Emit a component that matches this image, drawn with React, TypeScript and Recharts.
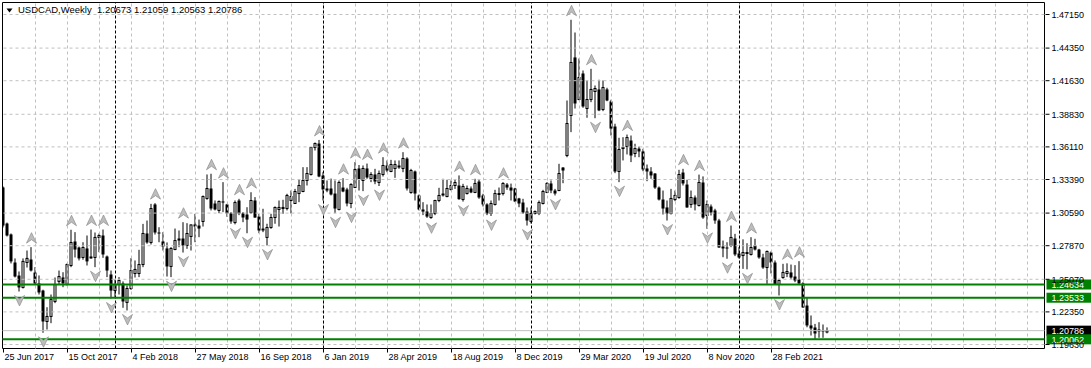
import React from 'react';
import { ComposedChart, Bar, Scatter, XAxis, YAxis, ReferenceLine, ReferenceArea } from 'recharts';

// weekly USDCAD candles, 25 Jun 2017 onwards
const opens = [
  1.3273, 1.2972, 1.2881, 1.2647, 1.2538, 1.2439, 1.2647, 1.2672, 1.2563, 1.2472,
  1.2413, 1.2155, 1.2197, 1.2322, 1.2489, 1.2522, 1.2464, 1.2622, 1.2822, 1.2772,
  1.2689, 1.2764, 1.2697, 1.2689, 1.2856, 1.2872, 1.2697, 1.2547, 1.2413, 1.2464,
  1.2472, 1.2314, 1.2430, 1.2555, 1.2555, 1.2630, 1.2889, 1.2814, 1.3131, 1.2897,
  1.2822, 1.2764, 1.2614, 1.2755, 1.2847, 1.2847, 1.2789, 1.2864, 1.2964, 1.2955,
  1.2989, 1.3181, 1.3264, 1.3139, 1.3081, 1.3156, 1.3131, 1.3056, 1.2980, 1.3164,
  1.3056, 1.3047, 1.3064, 1.3164, 1.3030, 1.2930, 1.2856, 1.2939, 1.3022, 1.3089,
  1.3097, 1.3097, 1.3164, 1.3139, 1.3222, 1.3239, 1.3331, 1.3381, 1.3606, 1.3639,
  1.3372, 1.3264, 1.3264, 1.3222, 1.3089, 1.3272, 1.3256, 1.3139, 1.3272, 1.3431,
  1.3331, 1.3431, 1.3347, 1.3381, 1.3314, 1.3381, 1.3456, 1.3406, 1.3431, 1.3456,
  1.3431, 1.3514, 1.3231, 1.3406, 1.3206, 1.3089, 1.3072, 1.3022, 1.3056, 1.3164,
  1.3222, 1.3197, 1.3256, 1.3289, 1.3289, 1.3172, 1.3222, 1.3264, 1.3231, 1.3322,
  1.3206, 1.3131, 1.3056, 1.3131, 1.3214, 1.3222, 1.3297, 1.3272, 1.3264, 1.3181,
  1.3147, 1.3072, 1.2989, 1.3056, 1.3056, 1.3139, 1.3231, 1.3306, 1.3247, 1.3247,
  1.3439, 1.3539, 1.3873, 1.4357, 1.4006, 1.4223, 1.3931, 1.4006, 1.4073, 1.4090,
  1.3923, 1.4090, 1.3990, 1.3781, 1.3406, 1.3597, 1.3614, 1.3664, 1.3556, 1.3597,
  1.3573, 1.3431, 1.3406, 1.3389, 1.3272, 1.3172, 1.3106, 1.3056, 1.3172, 1.3189,
  1.3397, 1.3297, 1.3131, 1.3189, 1.3122, 1.3314, 1.3039, 1.3114, 1.3081, 1.2997,
  1.2780, 1.2772, 1.2789, 1.2847, 1.2722, 1.2705, 1.2722, 1.2714, 1.2789, 1.2755,
  1.2689, 1.2605, 1.2730, 1.2647, 1.2464, 1.2522, 1.2555, 1.2564, 1.2530, 1.2505,
  1.2472, 1.2288, 1.2122, 1.2105, 1.2088, 1.2080, 1.20673,
];
const highs = [
  1.3281, 1.2980, 1.2889, 1.2681, 1.2572, 1.2681, 1.2747, 1.2775, 1.2608, 1.2539,
  1.2420, 1.2274, 1.2380, 1.2522, 1.2580, 1.2566, 1.2639, 1.2920, 1.2900, 1.2780,
  1.2816, 1.2872, 1.2922, 1.2897, 1.2889, 1.2922, 1.2705, 1.2580, 1.2505, 1.2525,
  1.2489, 1.2455, 1.2683, 1.2664, 1.2753, 1.2969, 1.2997, 1.3136, 1.3142, 1.2941,
  1.2900, 1.2814, 1.2775, 1.2930, 1.2914, 1.2983, 1.2975, 1.2965, 1.3053, 1.3005,
  1.3206, 1.3381, 1.3387, 1.3164, 1.3164, 1.3317, 1.3136, 1.3067, 1.3164, 1.3178,
  1.3067, 1.3108, 1.3233, 1.3192, 1.3053, 1.3095, 1.2970, 1.3053, 1.3114, 1.3164,
  1.3170, 1.3220, 1.3247, 1.3261, 1.3337, 1.3442, 1.3442, 1.3608, 1.3648, 1.3669,
  1.3400, 1.3331, 1.3347, 1.3331, 1.3331, 1.3350, 1.3270, 1.3308, 1.3484, 1.3460,
  1.3456, 1.3472, 1.3400, 1.3428, 1.3414, 1.3525, 1.3498, 1.3503, 1.3498, 1.3498,
  1.3567, 1.3525, 1.3428, 1.3414, 1.3214, 1.3150, 1.3131, 1.3131, 1.3170, 1.3270,
  1.3345, 1.3337, 1.3331, 1.3337, 1.3373, 1.3303, 1.3289, 1.3281, 1.3345, 1.3335,
  1.3220, 1.3141, 1.3164, 1.3253, 1.3272, 1.3317, 1.3310, 1.3305, 1.3270, 1.3186,
  1.3178, 1.3106, 1.3106, 1.3081, 1.3164, 1.3253, 1.3317, 1.3331, 1.3261, 1.3470,
  1.3442, 1.3998, 1.4671, 1.4565, 1.4348, 1.4248, 1.4165, 1.4262, 1.4123, 1.4171,
  1.4165, 1.4104, 1.4004, 1.3804, 1.3687, 1.3692, 1.3714, 1.3706, 1.3637, 1.3614,
  1.3595, 1.3464, 1.3442, 1.3392, 1.3281, 1.3247, 1.3164, 1.3261, 1.3247, 1.3420,
  1.3428, 1.3337, 1.3247, 1.3206, 1.3380, 1.3365, 1.3164, 1.3131, 1.3095, 1.3011,
  1.2830, 1.2816, 1.2955, 1.2886, 1.2775, 1.2840, 1.2808, 1.2858, 1.2845, 1.2761,
  1.2720, 1.2747, 1.2739, 1.2664, 1.2511, 1.2636, 1.2640, 1.2630, 1.2625, 1.2658,
  1.2483, 1.2358, 1.2205, 1.2135, 1.2149, 1.2130, 1.21059,
];
const lows = [
  1.2939, 1.2864, 1.2639, 1.2522, 1.2405, 1.2430, 1.2605, 1.2572, 1.2469, 1.2380,
  1.2061, 1.2088, 1.2141, 1.2308, 1.2464, 1.2441, 1.2455, 1.2608, 1.2689, 1.2664,
  1.2670, 1.2622, 1.2678, 1.2608, 1.2733, 1.2686, 1.2525, 1.2347, 1.2355, 1.2380,
  1.2269, 1.2247, 1.2419, 1.2522, 1.2525, 1.2608, 1.2803, 1.2797, 1.2880, 1.2816,
  1.2747, 1.2530, 1.2525, 1.2750, 1.2775, 1.2730, 1.2761, 1.2747, 1.2816, 1.2858,
  1.2947, 1.3170, 1.3081, 1.3081, 1.3058, 1.3067, 1.3028, 1.2970, 1.2965, 1.3042,
  1.2983, 1.2891, 1.3053, 1.3019, 1.2891, 1.2900, 1.2789, 1.2928, 1.2970, 1.2947,
  1.3053, 1.3081, 1.3056, 1.3136, 1.3150, 1.3233, 1.3289, 1.3372, 1.3581, 1.3358,
  1.3164, 1.3233, 1.3206, 1.3058, 1.3081, 1.3233, 1.3115, 1.3100, 1.3270, 1.3247,
  1.3242, 1.3345, 1.3317, 1.3300, 1.3285, 1.3364, 1.3400, 1.3400, 1.3353, 1.3428,
  1.3400, 1.3247, 1.3220, 1.3164, 1.3081, 1.3042, 1.3019, 1.3011, 1.3042, 1.3150,
  1.3197, 1.3191, 1.3247, 1.3261, 1.3170, 1.3155, 1.3214, 1.3225, 1.3225, 1.3178,
  1.3114, 1.3042, 1.3035, 1.3122, 1.3164, 1.3206, 1.3253, 1.3164, 1.3150, 1.3108,
  1.3053, 1.2955, 1.2972, 1.3047, 1.3042, 1.3131, 1.3225, 1.3225, 1.3206, 1.3242,
  1.3308, 1.3525, 1.3734, 1.3931, 1.4000, 1.3937, 1.3854, 1.3984, 1.3850, 1.3909,
  1.3909, 1.3992, 1.3706, 1.3392, 1.3317, 1.3498, 1.3548, 1.3484, 1.3525, 1.3525,
  1.3408, 1.3325, 1.3345, 1.3261, 1.3164, 1.3047, 1.2997, 1.3047, 1.3158, 1.3178,
  1.3289, 1.3103, 1.3103, 1.3081, 1.3114, 1.3011, 1.2928, 1.3039, 1.2970, 1.2769,
  1.2691, 1.2678, 1.2775, 1.2700, 1.2680, 1.2594, 1.2590, 1.2705, 1.2747, 1.2678,
  1.2594, 1.2469, 1.2555, 1.2464, 1.2372, 1.2511, 1.2525, 1.2511, 1.2483, 1.2464,
  1.2269, 1.2107, 1.2038, 1.20062, 1.2019, 1.2019, 1.20563,
];
const closes = [
  1.2955, 1.2872, 1.2656, 1.2530, 1.2439, 1.2656, 1.2681, 1.2580, 1.2472, 1.2397,
  1.2155, 1.2197, 1.2339, 1.2464, 1.2530, 1.2472, 1.2630, 1.2814, 1.2755, 1.2681,
  1.2772, 1.2656, 1.2681, 1.2856, 1.2872, 1.2714, 1.2580, 1.2413, 1.2464, 1.2497,
  1.2322, 1.2430, 1.2580, 1.2589, 1.2630, 1.2889, 1.2814, 1.3097, 1.2897, 1.2889,
  1.2780, 1.2614, 1.2764, 1.2830, 1.2830, 1.2789, 1.2889, 1.2960, 1.2947, 1.2930,
  1.3197, 1.3264, 1.3097, 1.3089, 1.3156, 1.3147, 1.3056, 1.2989, 1.3147, 1.3056,
  1.3022, 1.3005, 1.3164, 1.3022, 1.2914, 1.2914, 1.2939, 1.3022, 1.3106, 1.3106,
  1.3106, 1.3206, 1.3197, 1.3239, 1.3289, 1.3331, 1.3389, 1.3606, 1.3639, 1.3364,
  1.3256, 1.3247, 1.3214, 1.3097, 1.3314, 1.3239, 1.3139, 1.3297, 1.3423, 1.3339,
  1.3431, 1.3356, 1.3381, 1.3322, 1.3389, 1.3456, 1.3414, 1.3464, 1.3464, 1.3439,
  1.3514, 1.3264, 1.3414, 1.3222, 1.3089, 1.3072, 1.3030, 1.3056, 1.3164, 1.3206,
  1.3206, 1.3264, 1.3289, 1.3314, 1.3175, 1.3281, 1.3264, 1.3231, 1.3306, 1.3189,
  1.3131, 1.3056, 1.3139, 1.3222, 1.3222, 1.3306, 1.3272, 1.3247, 1.3156, 1.3139,
  1.3064, 1.2997, 1.3056, 1.3072, 1.3147, 1.3239, 1.3306, 1.3247, 1.3222, 1.3389,
  1.3414, 1.3806, 1.4315, 1.3973, 1.4190, 1.3948, 1.4006, 1.4090, 1.4098, 1.3915,
  1.4106, 1.3998, 1.3764, 1.3406, 1.3589, 1.3606, 1.3689, 1.3539, 1.3597, 1.3573,
  1.3423, 1.3406, 1.3373, 1.3272, 1.3172, 1.3097, 1.3056, 1.3181, 1.3206, 1.3381,
  1.3306, 1.3106, 1.3189, 1.3131, 1.3314, 1.3022, 1.3131, 1.3064, 1.2997, 1.2772,
  1.2764, 1.2764, 1.2856, 1.2714, 1.2689, 1.2730, 1.2730, 1.2772, 1.2755, 1.2689,
  1.2605, 1.2739, 1.2647, 1.2464, 1.2497, 1.2564, 1.2572, 1.2522, 1.2497, 1.2472,
  1.2272, 1.2122, 1.2097, 1.2055, 1.2072, 1.2072, 1.20786,
];

const dateTickBars = [0, 16, 32, 48, 64, 80, 96, 112, 128, 144, 160, 176, 192];
const dateLabels = [
  '25 Jun 2017', '15 Oct 2017', '4 Feb 2018', '27 May 2018', '16 Sep 2018', '6 Jan 2019',
  '28 Apr 2019', '18 Aug 2019', '8 Dec 2019', '29 Mar 2020', '19 Jul 2020', '8 Nov 2020', '28 Feb 2021',
];
const priceTickLabels = [
  '1.47150', '1.44350', '1.41630', '1.38830', '1.36110', '1.33390',
  '1.30590', '1.27870', '1.25070', '1.22350', '1.19630',
];
const upFractals = [7, 17, 22, 25, 38, 45, 52, 55, 59, 62, 79, 85, 88, 91, 95, 100, 114, 118, 125, 142, 147, 156, 170, 174, 182, 187, 196, 199];
const downFractals = [4, 10, 23, 27, 31, 42, 45, 58, 61, 66, 80, 83, 87, 90, 94, 107, 115, 122, 131, 138, 148, 154, 166, 176, 181, 186, 194];
const yearStartBars = [28, 80, 132, 184];
const levelLines = [1.24634, 1.23533, 1.20062];
const bidPrice = 1.20786;

const X_DOMAIN: [number, number] = [-0.25, 260.25];
const Y_DOMAIN: [number, number] = [1.19298, 1.48151];
const FONT = '"Liberation Sans", Arial, sans-serif';

const rows = opens.map((o, i) => ({
  i,
  o,
  h: highs[i],
  l: lows[i],
  c: closes[i],
  range: [lows[i], highs[i]],
}));
const upPoints = upFractals.map((i) => ({ i, p: highs[i] }));
const downPoints = downFractals.map((i) => ({ i, p: lows[i] }));
const gridBars = Array.from({ length: 32 }, (_, k) => 8 * (k + 1));

const Candle = (props: any) => {
  const { x, y, width, height, payload } = props;
  if (!payload || x == null) return null;
  const { o, h, l, c } = payload;
  const top = Math.min(y, y + height);
  const bot = Math.max(y, y + height);
  const span = h - l || 1;
  const py = (p: number) => top + ((h - p) / span) * (bot - top);
  const cx = x + width / 2;
  const bTop = py(Math.min(h, Math.max(o, c)));
  const bBot = py(Math.max(l, Math.min(o, c)));
  const bull = c >= o;
  return (
    <g>
      <line x1={cx} x2={cx} y1={top} y2={bot} stroke="#000" strokeWidth={1} />
      {bull ? (
        <rect x={cx - 1} y={bTop} width={2} height={Math.max(bBot - bTop, 0)} fill="#fff" stroke="#000" strokeWidth={1} />
      ) : (
        <rect x={cx - 1.5} y={bTop} width={3} height={Math.max(bBot - bTop, 1)} fill="#000" />
      )}
    </g>
  );
};

// fractal markers, drawn a few pixels beyond the bar's extreme
const UpArrow = ({ cx, cy }: any) => {
  const t = cy - 9;
  return (
    <polygon
      points={`${cx},${t - 5.5} ${cx + 5},${t + 5} ${cx},${t + 1.5} ${cx - 5},${t + 5}`}
      fill="#bdbdbd"
      stroke="#8c8c8c"
      strokeWidth={0.7}
    />
  );
};

const DownArrow = ({ cx, cy }: any) => {
  const t = cy + 9;
  return (
    <polygon
      points={`${cx},${t + 5.5} ${cx + 5},${t - 5} ${cx},${t - 1.5} ${cx - 5},${t - 5}`}
      fill="#bdbdbd"
      stroke="#8c8c8c"
      strokeWidth={0.7}
    />
  );
};

const DateTick = ({ x, y, payload }: any) => {
  const k = dateTickBars.indexOf(payload.value);
  return (
    <g>
      <line x1={x} x2={x} y1={y} y2={y + 4} stroke="#000" />
      <text x={x + 1} y={y + 11} fontSize={9} fontFamily={FONT} fill="#000" textAnchor="start">
        {dateLabels[k]}
      </text>
    </g>
  );
};

const PriceTick = ({ x, y, payload }: any) => {
  const k = priceTickLabels.findIndex((s) => Number(s) === payload.value);
  return (
    <g>
      <line x1={x + 1} x2={x + 5} y1={y} y2={y} stroke="#000" />
      <text x={x + 7} y={y} dy="0.36em" fontSize={9} fontFamily={FONT} fill="#000" textAnchor="start">
        {priceTickLabels[k]}
      </text>
    </g>
  );
};

const priceTag = (text: string, bg: string) => (props: any) => {
  const vb = props.viewBox;
  if (!vb) return null;
  const right = vb.x + vb.width;
  return (
    <g>
      <rect x={right + 2} y={vb.y - 5} width={46} height={10} fill={bg} />
      <text x={right + 7} y={vb.y} dy="0.36em" fontSize={9} fontFamily={FONT} fill="#fff" textAnchor="start">
        {text}
      </text>
    </g>
  );
};

export default function App() {
  return (
    <div style={{ position: 'relative', width: 1091, height: 368, background: '#fff', fontFamily: FONT }}>
      <style>{'body{margin:0;}'}</style>
      <ComposedChart
        width={1091}
        height={368}
        data={rows}
        margin={{ top: 2.5, right: 0, left: 2.5, bottom: 0 }}
      >
        {priceTickLabels.map((s) => (
          <ReferenceLine key={'h' + s} y={Number(s)} stroke="#c0c0c0" strokeDasharray="3 3" />
        ))}
        {gridBars.map((b) => (
          <ReferenceLine key={'v' + b} x={b} stroke="#c0c0c0" strokeDasharray="3 3" />
        ))}
        {yearStartBars.map((b) => (
          <ReferenceLine key={'s' + b} x={b} stroke="#000" strokeDasharray="3 2" />
        ))}
        <XAxis
          dataKey="i"
          type="number"
          domain={X_DOMAIN}
          allowDataOverflow
          ticks={dateTickBars}
          interval={0}
          height={19.5}
          tickSize={0}
          tickMargin={0}
          axisLine={false}
          tickLine={false}
          tick={<DateTick />}
        />
        <YAxis
          orientation="right"
          type="number"
          domain={Y_DOMAIN}
          allowDataOverflow
          ticks={priceTickLabels.map(Number)}
          interval={0}
          width={46.5}
          tickSize={0}
          tickMargin={0}
          axisLine={false}
          tickLine={false}
          tick={<PriceTick />}
        />
        <Bar dataKey="range" barSize={3} shape={<Candle />} isAnimationActive={false} />
        <Scatter data={upPoints} dataKey="p" shape={<UpArrow />} isAnimationActive={false} />
        <Scatter data={downPoints} dataKey="p" shape={<DownArrow />} isAnimationActive={false} />
        <ReferenceLine
          y={bidPrice}
          stroke="#c0c0c0"
          label={{ content: priceTag(bidPrice.toFixed(5), '#000') }}
        />
        {levelLines.map((v) => (
          <ReferenceLine
            key={'g' + v}
            y={v}
            stroke="#008000"
            strokeWidth={2}
            label={{ content: priceTag(v.toFixed(5), '#008000') }}
          />
        ))}
        <ReferenceArea
          x1={X_DOMAIN[0]}
          x2={X_DOMAIN[1]}
          y1={Y_DOMAIN[0]}
          y2={Y_DOMAIN[1]}
          fill="none"
          fillOpacity={0}
          stroke="#000"
          strokeWidth={1}
        />
      </ComposedChart>
      <svg width={14} height={14} style={{ position: 'absolute', left: 0, top: 0 }}>
        <polygon points="6.5,8.5 12.5,8.5 9.5,12.5" fill="#000" />
      </svg>
      <div
        style={{
          position: 'absolute',
          left: 18,
          top: 4,
          fontSize: 9.5,
          lineHeight: '11px',
          color: '#000',
          whiteSpace: 'pre',
        }}
      >
        {'USDCAD,Weekly  1.20673 1.21059 1.20563 1.20786'}
      </div>
    </div>
  );
}
